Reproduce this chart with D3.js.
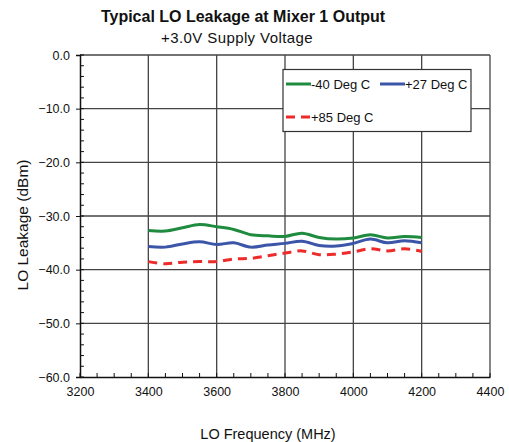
<!DOCTYPE html>
<html><head><meta charset="utf-8">
<script src="https://cdn.jsdelivr.net/npm/d3@7"></script>
<style>body{margin:0;background:#fff}svg{display:block}text{font-family:"Liberation Sans",Arial,sans-serif;fill:#111}</style>
</head><body>
<script>
const freqs = [3400,3450,3500,3550,3600,3650,3700,3750,3800,3850,3900,3950,4000,4050,4100,4150,4200];
const seriesNames = ["-40 Deg C","+27 Deg C","+85 Deg C"];
const m40 = [-32.7,-32.8,-32.2,-31.6,-32.0,-32.5,-33.5,-33.7,-33.8,-33.2,-34.0,-34.3,-34.1,-33.5,-34.1,-33.8,-34.0];
const p27 = [-35.7,-35.8,-35.2,-34.8,-35.3,-35.0,-35.8,-35.4,-35.1,-34.7,-35.5,-35.6,-35.1,-34.3,-35.0,-34.6,-35.0];
const p85 = [-38.5,-38.9,-38.6,-38.5,-38.5,-38.0,-37.9,-37.4,-36.9,-36.5,-37.2,-37.1,-36.7,-36.1,-36.5,-36.1,-36.6];
const xTicks = [3200,3400,3600,3800,4000,4200,4400];
const yTicks = [0,-10,-20,-30,-40,-50,-60];
const colors = ["#1e8b3e","#3b55a8","#ee2b2b"];

const W=509,H=442, L=80,R=490,T=55,B=377;
const svg=d3.select("body").append("svg").attr("width",W).attr("height",H);
const x=d3.scaleLinear().domain([3200,4400]).range([L,R]);
const y=d3.scaleLinear().domain([-60,0]).range([B,T]);

// grid
svg.append("g").selectAll("line").data(xTicks.slice(1)).join("line")
  .attr("x1",d=>x(d)).attr("x2",d=>x(d)).attr("y1",T).attr("y2",B)
  .attr("stroke","#444").attr("stroke-width",1.3);
svg.append("g").selectAll("line").data(yTicks.slice(0,-1)).join("line")
  .attr("x1",L).attr("x2",R).attr("y1",d=>y(d)).attr("y2",d=>y(d))
  .attr("stroke","#444").attr("stroke-width",1.3);

// axes
const xAxis=d3.axisBottom(x).tickValues(xTicks).tickSize(0).tickPadding(10).tickFormat(d3.format("d"));
const gx=svg.append("g").attr("transform",`translate(0,${B})`).call(xAxis);
gx.select(".domain").attr("stroke","#111").attr("stroke-width",1.5);
gx.selectAll("text").style("font-size","12.5px").attr("fill","#111");
const xMinor=d3.range(3200,4401,50);
svg.append("g").selectAll("line").data(xMinor).join("line")
  .attr("x1",d=>x(d)).attr("x2",d=>x(d)).attr("y1",B).attr("y2",B-4)
  .attr("stroke","#111").attr("stroke-width",1);

const yAxis=d3.axisLeft(y).tickValues(yTicks).tickSize(4).tickPadding(6).tickFormat(d3.format(".1f"));
const gy=svg.append("g").attr("transform",`translate(${L},0)`).call(yAxis);
gy.select(".domain").attr("stroke","#111").attr("stroke-width",1.5);
gy.selectAll(".tick line").attr("stroke","#111");
gy.selectAll("text").style("font-size","12.5px").attr("fill","#111");
const yMinor=d3.range(-60,0.1,2);
svg.append("g").selectAll("line").data(yMinor).join("line")
  .attr("x1",L).attr("x2",L+4).attr("y1",d=>y(d)).attr("y2",d=>y(d))
  .attr("stroke","#111").attr("stroke-width",1);

// series
const data=[m40,p27,p85];
const line=d3.line().x((d,i)=>x(freqs[i])).y(d=>y(d)).curve(d3.curveCatmullRom.alpha(0.5));
data.forEach((s,k)=>{
  svg.append("path").datum(s).attr("d",line).attr("fill","none")
    .attr("stroke",colors[k]).attr("stroke-width",3)
    .attr("stroke-dasharray",k===2?"9,6":null);
});

// legend
svg.append("rect").attr("x",283).attr("y",69.5).attr("width",188).attr("height",62)
  .attr("fill","#fff").attr("stroke","#333").attr("stroke-width",1.2);
const leg=[{x:286,y:84},{x:380,y:84},{x:286,y:117}];
leg.forEach((p,k)=>{
  svg.append("line").attr("x1",p.x).attr("x2",p.x+25).attr("y1",p.y).attr("y2",p.y)
    .attr("stroke",colors[k]).attr("stroke-width",3).attr("stroke-dasharray",k===2?"9,6":null);
  svg.append("text").attr("x",p.x+25).attr("y",p.y+4.5).style("font-size","13px").text(seriesNames[k]);
});

// titles
svg.append("text").attr("x",243).attr("y",22).attr("text-anchor","middle")
  .style("font-size","16px").style("font-weight","bold").text("Typical LO Leakage at Mixer 1 Output");
svg.append("text").attr("x",237).attr("y",43).attr("text-anchor","middle")
  .style("font-size","15px").style("letter-spacing","0.4px").text("+3.0V Supply Voltage");
svg.append("text").attr("x",268).attr("y",439).attr("text-anchor","middle")
  .style("font-size","14.5px").text("LO Frequency (MHz)");
svg.append("text").attr("transform","translate(28,225) rotate(-90)").attr("text-anchor","middle")
  .style("font-size","15.5px").text("LO Leakage (dBm)");
</script>
</body></html>
